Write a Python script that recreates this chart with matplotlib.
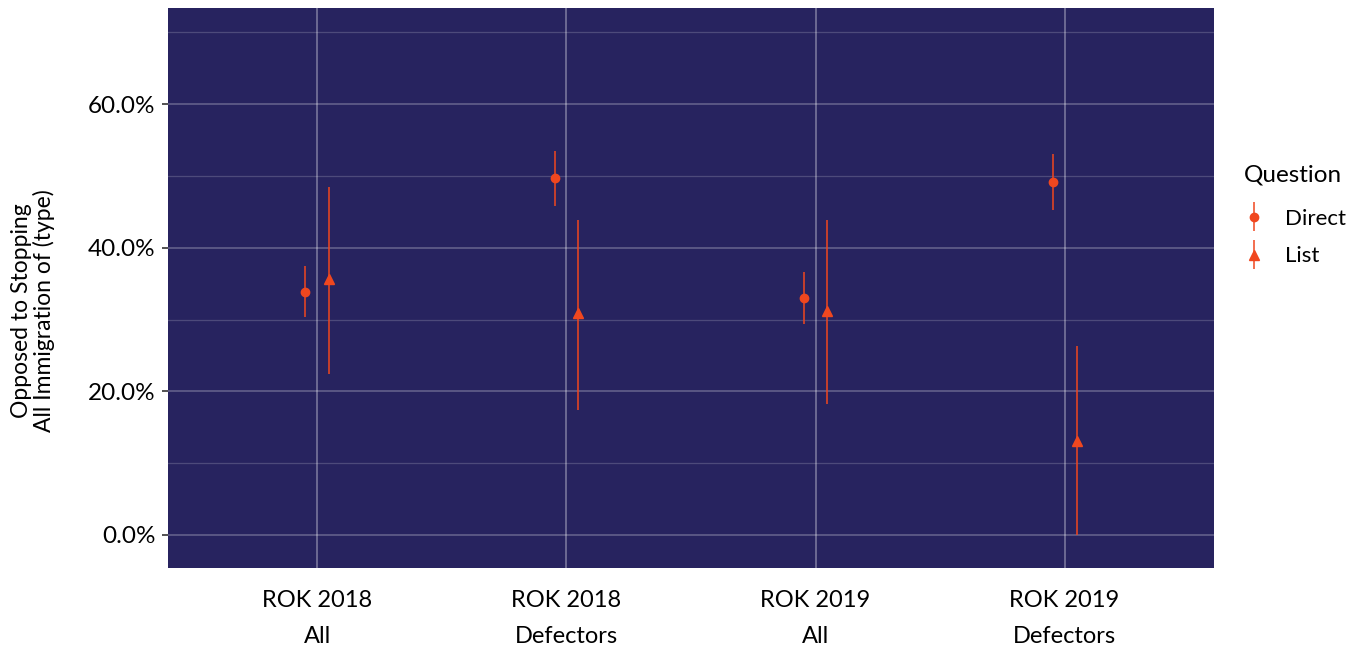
import matplotlib
matplotlib.use("Agg")
import matplotlib.pyplot as plt
import numpy as np
from matplotlib.ticker import FuncFormatter, MultipleLocator
from matplotlib.legend_handler import HandlerErrorbar

plt.rcParams['font.family'] = ['Lato', 'DejaVu Sans']

categories = ["ROK 2018\nAll", "ROK 2018\nDefectors", "ROK 2019\nAll", "ROK 2019\nDefectors"]
direct_est = [33.9, 49.7, 33.0, 49.1]
direct_lo = [30.3, 45.8, 29.4, 45.3]
direct_hi = [37.4, 53.5, 36.6, 53.0]
list_est = [35.6, 30.9, 31.2, 13.1]
list_lo = [22.4, 17.4, 18.2, 0.0]
list_hi = [48.5, 43.9, 43.9, 26.3]

orange = "#f0471f"
panel_bg = "#27235f"

fig = plt.figure(figsize=(13.61, 6.52), dpi=100)
ax = fig.add_axes([168/1361, 1 - 568/652, (1214-168)/1361, (568-8)/652])
ax.set_facecolor(panel_bg)

x = np.arange(1, len(categories) + 1)
dodge = 0.048

d = np.array(direct_est); dl = np.array(direct_lo); dh = np.array(direct_hi)
l = np.array(list_est); ll = np.array(list_lo); lh = np.array(list_hi)

h1 = ax.errorbar(x - dodge, d, yerr=[d - dl, dh - d], fmt='o', color=orange,
                 ecolor=orange, elinewidth=1.1, markersize=6, capsize=0, zorder=3,
                 label="Direct")
h2 = ax.errorbar(x + dodge, l, yerr=[l - ll, lh - l], fmt='^', color=orange,
                 ecolor=orange, elinewidth=1.1, markersize=7, capsize=0, zorder=3,
                 label="List")

ax.set_xlim(0.4, 4.6)
ax.set_ylim(-4.6, 73.4)
ax.set_xticks(x)
ax.set_xticklabels(categories, fontsize=17, linespacing=1.85)
ax.yaxis.set_major_locator(MultipleLocator(20))
ax.yaxis.set_minor_locator(MultipleLocator(10))
ax.yaxis.set_major_formatter(FuncFormatter(lambda v, p: f"{v:.1f}%"))
ax.tick_params(axis='y', which='major', labelsize=17.5, length=4, width=1.2,
               color="#333333", pad=5)
ax.tick_params(axis='y', which='minor', length=0)
ax.tick_params(axis='x', length=0, pad=16)

ax.grid(True, which='major', axis='y', color='white', alpha=0.28, linewidth=1.2)
ax.grid(True, which='minor', axis='y', color='white', alpha=0.18, linewidth=0.9)
ax.grid(True, which='major', axis='x', color='white', alpha=0.32, linewidth=1.4)
ax.set_axisbelow(True)
for s in ax.spines.values():
    s.set_visible(False)

fig.text(33/1361, 1 - 311/652, "Opposed to Stopping\nAll Immigration of (type)",
         rotation=90, ha='center', va='center', fontsize=16.5, linespacing=1.0)

leg = ax.legend(handles=[h1, h2], labels=["Direct", "List"], title="Question",
                loc='upper left', bbox_to_anchor=(1224/1361, 1 - 144/652),
                bbox_transform=fig.transFigure, frameon=False, fontsize=16,
                title_fontsize=17.5, handlelength=0.9, handletextpad=0.95,
                labelspacing=0.8,
                handler_map={type(h1): HandlerErrorbar(xerr_size=0.5, yerr_size=0.65)})
leg._legend_box.align = "left"
leg._legend_box.sep = 17

fig.savefig("out.png", dpi=100, facecolor='white')
